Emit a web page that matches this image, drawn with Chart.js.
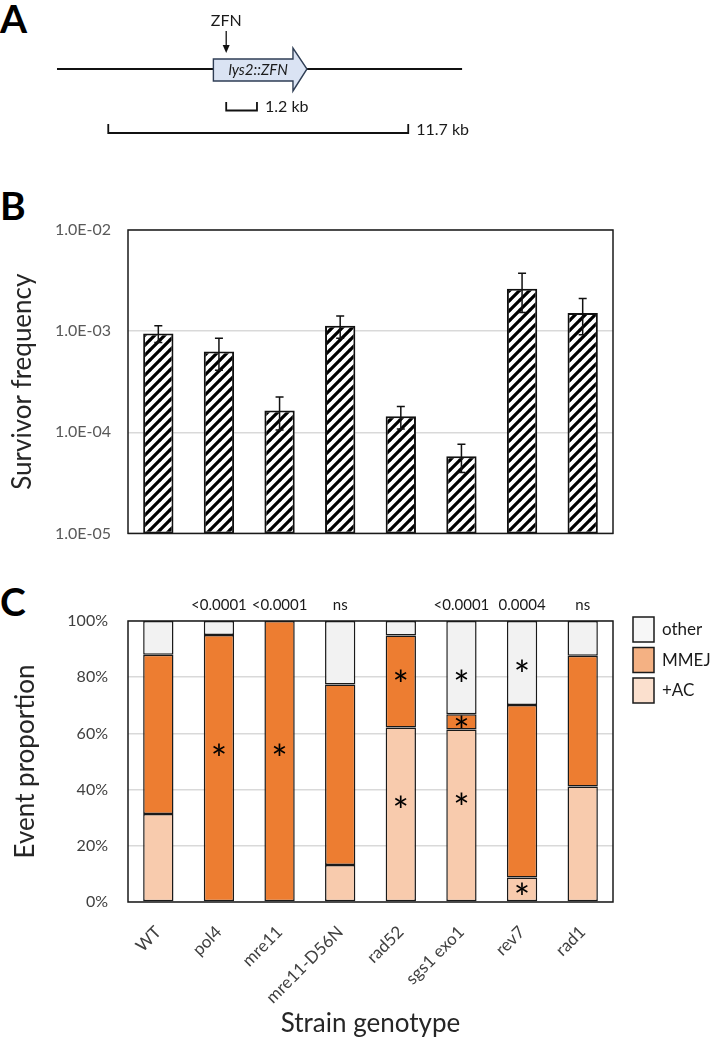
<!DOCTYPE html>
<html>
<head>
<meta charset="utf-8">
<script src="https://cdn.jsdelivr.net/npm/chart.js@4.4.1/dist/chart.umd.min.js"></script>
<style>
  body { margin: 0; background: #fff; width: 710px; height: 1050px; position: relative; overflow: hidden; }
  canvas { position: absolute; left: 0; }
  .tag { position: absolute; left: 0; font: bold 39px Lato, sans-serif; line-height: 38px; color: #000; }
</style>
</head>
<body>
<div class="tag" style="top:-1px">A</div>
<div class="tag" style="top:186px">B</div>
<div class="tag" style="top:582px">C</div>
<canvas id="chartA" width="710" height="160" style="top:0"></canvas>
<canvas id="chartB" width="710" height="400" style="top:160px"></canvas>
<canvas id="chartC" width="710" height="500" style="top:550px"></canvas>
<script>
// Panel A: locus map, positions in kb
const locusKb = [0, 15.8];
const geneKb = [6.1, 9.75];
const zfnSiteKb = 6.6;
const shortProductKb = [6.6, 7.8];
const longProductKb = [2.0, 13.7];

// Strains shared by panels B and C
const strains = ['WT', 'pol4', 'mre11', 'mre11-D56N', 'rad52', 'sgs1 exo1', 'rev7', 'rad1'];

// Panel B: survivor frequency (log scale) with error bars
const survivorFreq = [9.5e-4, 6.3e-4, 1.64e-4, 1.13e-3, 1.44e-4, 5.8e-5, 2.63e-3, 1.51e-3];
const survivorErr = [1.8e-4, 2.2e-4, 5.9e-5, 2.8e-4, 3.6e-5, 1.8e-5, 1.1e-3, 5.9e-4];
const freqTicks = [1e-5, 1e-4, 1e-3, 1e-2];
const freqTickLabels = ['1.0E-05', '1.0E-04', '1.0E-03', '1.0E-02'];

// Panel C: event proportions (%)
const plusAC = [31.3, 0, 0, 13.2, 62.1, 61.4, 8.7, 41.1];
const mmej = [56.7, 95, 100, 64.2, 32.7, 5.4, 61.4, 46.5];
const other = [12, 5, 0, 22.6, 5.2, 33.2, 29.9, 12.4];
const pValues = ['', '<0.0001', '<0.0001', 'ns', '', '<0.0001', '0.0004', 'ns'];
const propTicks = [0, 20, 40, 60, 80, 100];
// significance stars: strain and height (%) where the star sits
const stars = [
  ['pol4', 54], ['mre11', 54],
  ['rad52', 80.5], ['rad52', 35.5],
  ['sgs1 exo1', 80.5], ['sgs1 exo1', 64], ['sgs1 exo1', 36.5],
  ['rev7', 84], ['rev7', 4.5]
];

const FONT = 'Lato, sans-serif';

// Diagram for panel A drawn on a kb x-scale
const locusMap = {
  id: 'locusMap',
  afterDraw(chart) {
    const ctx = chart.ctx;
    const x = v => chart.scales.x.getPixelForValue(v);
    ctx.save();
    ctx.strokeStyle = '#111';

    // chromosome line
    ctx.lineWidth = 2;
    ctx.beginPath();
    ctx.moveTo(x(locusKb[0]), 69);
    ctx.lineTo(x(locusKb[1]), 69);
    ctx.stroke();

    // gene arrow
    const gs = x(geneKb[0]), ge = x(geneKb[1]), body = ge - 14;
    ctx.beginPath();
    ctx.moveTo(gs, 59);
    ctx.lineTo(body, 59);
    ctx.lineTo(body, 48);
    ctx.lineTo(ge, 69);
    ctx.lineTo(body, 91);
    ctx.lineTo(body, 81);
    ctx.lineTo(gs, 81);
    ctx.closePath();
    ctx.fillStyle = '#dae3f3';
    ctx.fill();
    ctx.strokeStyle = '#2f3e55';
    ctx.lineWidth = 1.4;
    ctx.stroke();

    ctx.fillStyle = '#1a1a1a';
    ctx.font = 'italic 15px ' + FONT;
    ctx.textAlign = 'center';
    ctx.textBaseline = 'middle';
    ctx.fillText('lys2::ZFN', (gs + body) / 2 + 5, 70);

    // ZFN cut arrow
    const zx = x(zfnSiteKb);
    ctx.font = '16px ' + FONT;
    ctx.fillText('ZFN', zx, 21);
    ctx.strokeStyle = '#111';
    ctx.lineWidth = 1.3;
    ctx.beginPath();
    ctx.moveTo(zx, 31);
    ctx.lineTo(zx, 48);
    ctx.stroke();
    ctx.beginPath();
    ctx.moveTo(zx - 3.5, 45);
    ctx.lineTo(zx + 3.5, 45);
    ctx.lineTo(zx, 53);
    ctx.closePath();
    ctx.fillStyle = '#111';
    ctx.fill();

    // product brackets
    function bracket(range, top, bottom, label) {
      const a = x(range[0]), b = x(range[1]);
      ctx.strokeStyle = '#111';
      ctx.lineWidth = 1.8;
      ctx.beginPath();
      ctx.moveTo(a, top);
      ctx.lineTo(a, bottom);
      ctx.lineTo(b, bottom);
      ctx.lineTo(b, top);
      ctx.stroke();
      ctx.fillStyle = '#1a1a1a';
      ctx.font = '16px ' + FONT;
      ctx.textAlign = 'left';
      ctx.textBaseline = 'middle';
      ctx.fillText(label, b + 8, (top + bottom) / 2 + 1);
    }
    bracket(shortProductKb, 102, 110.5, '1.2 kb');
    bracket(longProductKb, 124, 133, '11.7 kb');
    ctx.restore();
  }
};

// Black frame around a plot area
const plotBox = {
  id: 'plotBox',
  afterDatasetsDraw(chart) {
    const a = chart.chartArea, ctx = chart.ctx;
    ctx.save();
    ctx.strokeStyle = '#1a1a1a';
    ctx.lineWidth = 1.5;
    ctx.strokeRect(a.left, a.top, a.right - a.left, a.bottom - a.top);
    ctx.restore();
  }
};

const errorBars = {
  id: 'errorBars',
  afterDatasetsDraw(chart) {
    const ctx = chart.ctx, y = chart.scales.y;
    ctx.save();
    ctx.strokeStyle = '#111';
    ctx.lineWidth = 1.5;
    chart.getDatasetMeta(0).data.forEach((bar, i) => {
      const top = y.getPixelForValue(survivorFreq[i] + survivorErr[i]);
      const bot = y.getPixelForValue(survivorFreq[i] - survivorErr[i]);
      ctx.beginPath();
      ctx.moveTo(bar.x, top); ctx.lineTo(bar.x, bot);
      ctx.moveTo(bar.x - 4, top); ctx.lineTo(bar.x + 4, top);
      ctx.moveTo(bar.x - 4, bot); ctx.lineTo(bar.x + 4, bot);
      ctx.stroke();
    });
    ctx.restore();
  }
};

function hatch() {
  const c = document.createElement('canvas');
  c.width = 10; c.height = 10;
  const g = c.getContext('2d');
  g.fillStyle = '#fff';
  g.fillRect(0, 0, 10, 10);
  g.strokeStyle = '#000';
  g.lineWidth = 3.2;
  g.beginPath();
  g.moveTo(-1, 11); g.lineTo(11, -1);
  g.moveTo(-1, 1); g.lineTo(1, -1);
  g.moveTo(9, 11); g.lineTo(11, 9);
  g.stroke();
  return g.createPattern(c, 'repeat');
}

// p-values above bars, stars inside segments, legend on the right
const annotations = {
  id: 'annotations',
  afterDraw(chart) {
    const ctx = chart.ctx, a = chart.chartArea;
    const xs = chart.scales.x, ys = chart.scales.y;
    ctx.save();
    ctx.fillStyle = '#1a1a1a';
    ctx.textAlign = 'center';
    ctx.textBaseline = 'middle';
    ctx.font = '15px ' + FONT;
    pValues.forEach((p, i) => {
      if (p) ctx.fillText(p, xs.getPixelForValue(i), a.top - 16);
    });

    // asterisks about 12px wide, glyph centred on its value
    ctx.font = '100px ' + FONT;
    let m = ctx.measureText('*');
    const size = 100 * 12 / (m.actualBoundingBoxLeft + m.actualBoundingBoxRight);
    ctx.font = size + 'px ' + FONT;
    m = ctx.measureText('*');
    const shift = (m.actualBoundingBoxAscent - m.actualBoundingBoxDescent) / 2 + 12;
    ctx.fillStyle = '#000';
    ctx.textBaseline = 'alphabetic';
    stars.forEach(([s, v]) => {
      ctx.fillText('*', xs.getPixelForValue(strains.indexOf(s)), ys.getPixelForValue(v) + shift);
    });

    // legend, top item first
    const sets = chart.data.datasets.slice().reverse();
    ctx.textAlign = 'left';
    ctx.textBaseline = 'middle';
    ctx.font = '17px ' + FONT;
    sets.forEach((ds, k) => {
      const bx = a.right + 20, by = a.top - 4 + k * 30.5;
      ctx.fillStyle = '#fff';
      ctx.fillRect(bx, by, 21, 25);
      ctx.globalAlpha = 0.6;
      ctx.fillStyle = ds.backgroundColor;
      ctx.fillRect(bx, by, 21, 25);
      ctx.globalAlpha = 1;
      ctx.strokeStyle = '#1a1a1a';
      ctx.lineWidth = 1.5;
      ctx.strokeRect(bx, by, 21, 25);
      ctx.fillStyle = '#1a1a1a';
      ctx.fillText(ds.label, bx + 29, by + 13);
    });
    ctx.restore();
  }
};

document.addEventListener('DOMContentLoaded', function () {
  Chart.defaults.font.family = FONT;

  // Panel A
  new Chart(document.getElementById('chartA'), {
    type: 'scatter',
    data: { datasets: [] },
    options: {
      responsive: false, animation: false, events: [],
      layout: { padding: 0 },
      plugins: { legend: { display: false }, tooltip: { enabled: false } },
      scales: {
        x: { type: 'linear', min: -2.223, max: 25.47, display: false },
        y: { min: 0, max: 1, display: false }
      }
    },
    plugins: [locusMap]
  });

  // Panel B
  new Chart(document.getElementById('chartB'), {
    type: 'bar',
    data: {
      labels: strains,
      datasets: [{
        data: survivorFreq,
        backgroundColor: hatch(),
        borderColor: '#111',
        borderWidth: 2,
        borderSkipped: false,
        barPercentage: 0.5,
        categoryPercentage: 1
      }]
    },
    options: {
      responsive: false, animation: false, events: [],
      layout: { padding: { left: 0, right: 97, top: 70, bottom: 25 } },
      plugins: { legend: { display: false }, tooltip: { enabled: false } },
      scales: {
        x: { display: false },
        y: {
          type: 'logarithmic', min: 1e-5, max: 1e-2,
          afterBuildTicks: s => { s.ticks = freqTicks.map(v => ({ value: v })); },
          afterFit: s => { s.width = 128; },
          ticks: {
            callback: v => freqTickLabels[freqTicks.indexOf(v)] ?? '',
            padding: 17, color: '#595959', font: { size: 16 }
          },
          grid: { color: '#d9d9d9', lineWidth: 1.5, drawTicks: false },
          border: { display: false },
          title: { display: true, text: 'Survivor frequency', color: '#262626', font: { size: 26 }, padding: { top: 7 } }
        }
      }
    },
    plugins: [plotBox, errorBars]
  });

  // Panel C
  new Chart(document.getElementById('chartC'), {
    type: 'bar',
    data: {
      labels: strains,
      datasets: [
        { label: '+AC', data: plusAC, backgroundColor: '#f8cbad' },
        { label: 'MMEJ', data: mmej, backgroundColor: '#ed7d31' },
        { label: 'other', data: other, backgroundColor: '#f2f2f2' }
      ].map(d => Object.assign(d, {
        borderColor: '#1a1a1a', borderWidth: 1.5, borderSkipped: false,
        barPercentage: 0.5, categoryPercentage: 1
      }))
    },
    options: {
      responsive: false, animation: false, events: [],
      layout: { padding: { left: 0, right: 97, top: 71, bottom: 0 } },
      plugins: { legend: { display: false }, tooltip: { enabled: false } },
      scales: {
        x: {
          stacked: true,
          afterFit: s => { s.height = 148; },
          ticks: { color: '#404040', font: { size: 17 }, minRotation: 45, maxRotation: 45, padding: 20 },
          grid: { display: false, drawTicks: false },
          border: { display: false },
          title: { display: true, text: 'Strain genotype', color: '#262626', font: { size: 26 }, padding: { bottom: 11 } }
        },
        y: {
          stacked: true, min: 0, max: 100,
          afterBuildTicks: s => { s.ticks = propTicks.map(v => ({ value: v })); },
          afterFit: s => { s.width = 128; },
          ticks: { callback: v => v + '%', padding: 20, color: '#404040', font: { size: 16 } },
          grid: { color: '#d9d9d9', lineWidth: 1.5, drawTicks: false },
          border: { display: false },
          title: { display: true, text: 'Event proportion', color: '#262626', font: { size: 26 }, padding: { top: 10 } }
        }
      }
    },
    plugins: [plotBox, annotations]
  });
});
</script>
</body>
</html>
